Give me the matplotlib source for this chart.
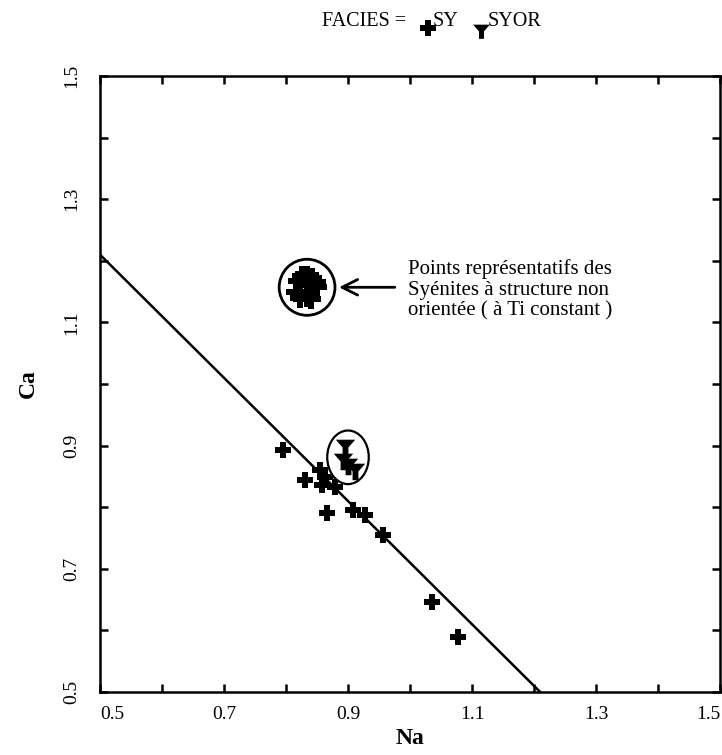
import numpy as np
import matplotlib.pyplot as plt
from matplotlib.path import Path
from matplotlib.patches import Ellipse
from matplotlib.lines import Line2D
from matplotlib.ticker import MultipleLocator

plt.rcParams['font.family'] = ['Liberation Serif', 'DejaVu Serif']

# SY facies (plus markers)
sy_na = [0.795, 0.831, 0.855, 0.863, 0.858, 0.879, 0.866, 0.908, 0.927, 0.956, 1.035, 1.077]
sy_ca = [0.893, 0.844, 0.860, 0.849, 0.836, 0.833, 0.790, 0.795, 0.787, 0.755, 0.646, 0.589]

# SYOR facies (Y markers)
syor_na = [0.895, 0.892, 0.900, 0.911]
syor_ca = [0.900, 0.877, 0.868, 0.860]

# non-oriented syenites cluster (Ti constant)
blob_na = [0.820, 0.842, 0.834, 0.816, 0.850, 0.826, 0.840, 0.822, 0.848, 0.834, 0.834]
blob_ca = [1.168, 1.172, 1.142, 1.150, 1.157, 1.176, 1.138, 1.140, 1.166, 1.160, 1.176]

# trend line
line_na = [0.5, 1.21]
line_ca = [1.21, 0.5]

ticks = [0.5, 0.7, 0.9, 1.1, 1.3, 1.5]

y_marker = Path([(-1.0, 0.7), (1.0, 0.7), (0.3, -0.1), (0.3, -1.0),
                 (-0.3, -1.0), (-0.3, -0.1), (-1.0, 0.7)],
                [Path.MOVETO] + [Path.LINETO] * 5 + [Path.CLOSEPOLY])

fig = plt.figure(figsize=(7.22, 7.55), dpi=100)
ax = fig.add_axes([100 / 722, 63 / 755, 620 / 722, 616 / 755])

ax.plot(line_na, line_ca, color='black', lw=1.8)
ax.plot(sy_na, sy_ca, linestyle='none', marker='P', markersize=11,
        color='black', markeredgewidth=0)
ax.plot(syor_na, syor_ca, linestyle='none', marker=y_marker, markersize=14,
        color='black', markeredgewidth=0)
ax.add_patch(Ellipse((0.90, 0.881), 0.067, 0.087, fill=False, lw=1.6, color='black'))

ax.plot(blob_na, blob_ca, linestyle='none', marker='P', markersize=14,
        color='black', markeredgewidth=0)
ax.add_patch(Ellipse((0.834, 1.157), 0.09, 0.091, fill=False, lw=2, color='black'))

ax.annotate('', xy=(0.881, 1.157), xytext=(0.98, 1.157),
            arrowprops=dict(arrowstyle='->', lw=2, color='black',
                            mutation_scale=28))
ax.text(0.997, 1.153, 'Points représentatifs des\nSyénites à structure non\norientée ( à Ti constant )',
        fontsize=15, va='center', ha='left', linespacing=1.12)

ax.set_xlim(0.5, 1.5)
ax.set_ylim(0.5, 1.5)
ax.set_xticks(ticks)
ax.set_yticks(ticks)
ax.set_xticklabels([f'{t:.1f}' for t in ticks], fontsize=14)
ax.set_yticklabels([f'{t:.1f}' for t in ticks], fontsize=14, rotation=90, va='center')
xl = ax.get_xticklabels()
xl[0].set_ha('left')
xl[-1].set_ha('right')
ax.xaxis.set_minor_locator(MultipleLocator(0.1))
ax.yaxis.set_minor_locator(MultipleLocator(0.1))
ax.tick_params(which='both', direction='in', length=6, width=1.8,
               top=True, right=True)
ax.tick_params(axis='x', pad=10)
ax.tick_params(axis='y', pad=14)
for s in ax.spines.values():
    s.set_linewidth(1.8)

ax.set_xlabel('Na', fontsize=17, fontweight='bold', labelpad=4)
ax.set_ylabel('Ca', fontsize=17, fontweight='bold', labelpad=18)

# legend header
fig.text(322 / 722, 1 - 22 / 755, 'FACIES =', fontsize=14.5, va='center', ha='left')
fig.add_artist(Line2D([428 / 722], [1 - 28 / 755], marker='P', markersize=11,
                      color='black', markeredgewidth=0, transform=fig.transFigure))
fig.text(433 / 722, 1 - 22 / 755, 'SY', fontsize=14.5, va='center', ha='left')
fig.add_artist(Line2D([481 / 722], [1 - 30 / 755], marker=y_marker, markersize=12,
                      color='black', markeredgewidth=0, transform=fig.transFigure))
fig.text(488 / 722, 1 - 22 / 755, 'SYOR', fontsize=14.5, va='center', ha='left')

fig.savefig('out.png', dpi=100)
